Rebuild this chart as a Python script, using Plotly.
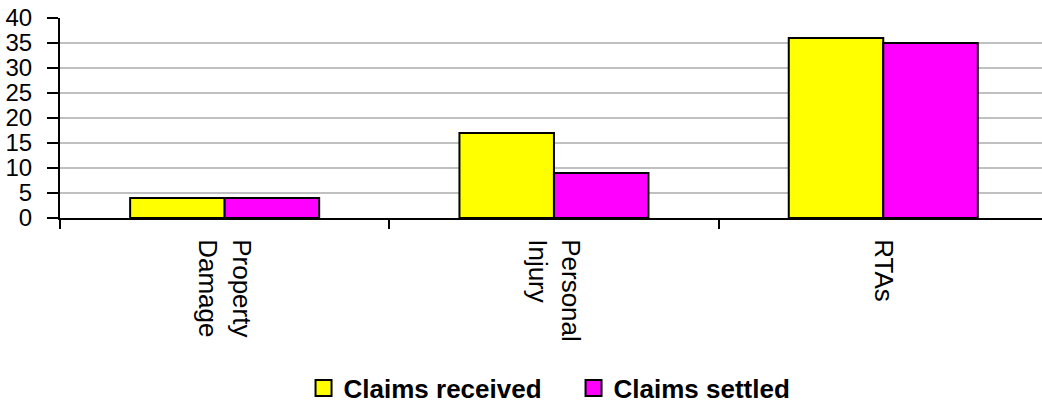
import plotly.graph_objects as go

categories = ["Property<br>Damage", "Personal<br>Injury", "RTAs"]
claims_received = [4, 17, 36]
claims_settled = [4, 9, 35]
y_ticks = [0, 5, 10, 15, 20, 25, 30, 35, 40]
series_names = ["Claims received", "Claims settled"]
series_colors = ["#ffff00", "#ff00ff"]

fig = go.Figure()
for name, vals, col in zip(series_names, [claims_received, claims_settled], series_colors):
    fig.add_trace(go.Bar(x=categories, y=vals, name=name, showlegend=False, legendgroup=name,
                         marker=dict(color=col, line=dict(color="black", width=2))))
# legend entries with larger square swatches
for name, col in zip(series_names, series_colors):
    fig.add_trace(go.Scatter(x=[None], y=[None], mode="markers", name=name, legendgroup=name,
                             marker=dict(symbol="square", size=16, color=col,
                                         line=dict(color="black", width=2))))

fig.update_layout(
    width=1042, height=403,
    margin=dict(l=60, r=0, t=18, b=185),
    paper_bgcolor="white", plot_bgcolor="white",
    barmode="group", bargap=0.426, bargroupgap=0,
    font=dict(family="Liberation Sans, Arial", size=24, color="black"),
    showlegend=True,
    legend=dict(orientation="h", x=0.248, xanchor="left", yref="container",
                y=0.037, yanchor="middle", entrywidth=225,
                font=dict(size=26, family="Liberation Sans, Arial", weight="bold"),
                itemwidth=30, traceorder="normal"),
    xaxis=dict(range=[-0.5, 2.482], showline=True, linecolor="black", linewidth=2,
               ticks="outside", tickson="boundaries", ticklen=9, tickwidth=2,
               tickcolor="black", tickangle=90, showgrid=False, tickfont=dict(size=26),
               automargin=False, ticklabelstandoff=14),
    yaxis=dict(range=[0, 40], tickvals=y_ticks, showline=True, linecolor="black",
               linewidth=2, ticks="outside", ticklen=11, tickwidth=2, tickcolor="black",
               showgrid=True, gridcolor="#c0c0c0", gridwidth=2, zeroline=False,
               tickfont=dict(size=24), automargin=False, ticklabelstandoff=10,
               ticklabeloverflow="allow"),
)

fig.write_html("out.html", config={"displayModeBar": False},
               post_script="document.body.style.margin='0px';")
